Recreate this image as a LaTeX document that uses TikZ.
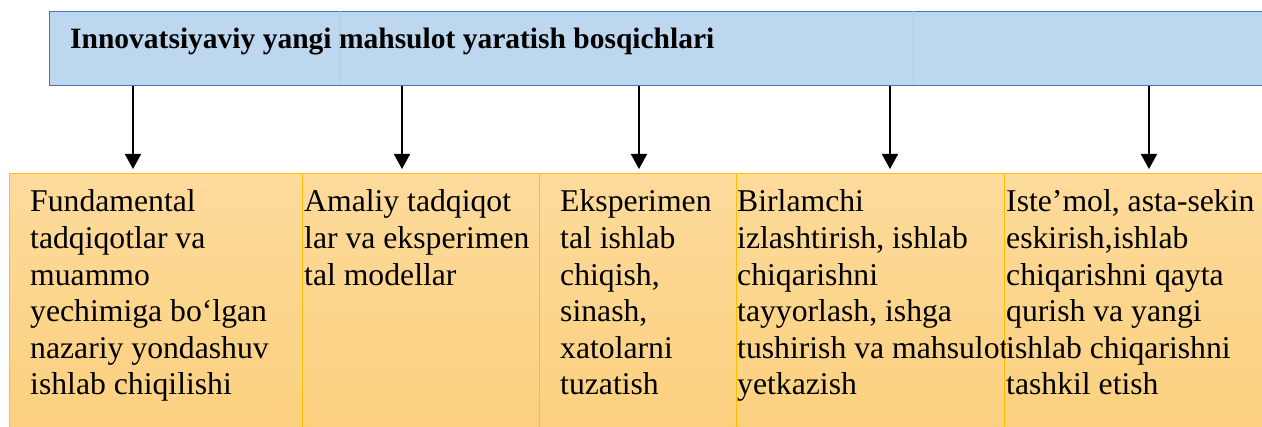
\documentclass[tikz,border=0pt]{standalone}
\usepackage{fontspec}
\setmainfont{Liberation Serif}
\usetikzlibrary{arrows.meta}
\definecolor{barfill}{HTML}{BDD7EE}
\definecolor{barline}{HTML}{4472C4}
\definecolor{barsep}{HTML}{B2CCE8}
\definecolor{boxtop}{HTML}{FDDB9C}
\definecolor{boxbot}{HTML}{FCD07E}
\definecolor{boxline}{HTML}{FFC000}
\tikzset{
  x=1pt, y=-1pt,
  barbox/.style={draw=barline, line width=1pt, fill=barfill, inner sep=0, anchor=north west},
  titletext/.style={anchor=base west, inner sep=0, font=\fontsize{29.5}{35}\selectfont\bfseries},
  stagebox/.style={draw=boxline, line width=1.3pt, top color=boxtop, bottom color=boxbot, inner sep=0, anchor=north west, minimum height=262pt},
  stagetext/.style={anchor=base west, inner sep=0, font=\fontsize{31.7}{36.6}\selectfont},
  arr/.style={line width=1.8pt, -{Triangle[width=16pt,length=15pt]}, shorten >=4pt},
}
\newcommand{\stagelines}[1]{\parbox[t]{420pt}{\raggedright #1}}
\begin{document}
\begin{tikzpicture}
\useasboundingbox (0,0) rectangle (1262,427);
% header bar
\node[barbox, minimum width=1230pt, minimum height=74pt] (bar) at (49,11) {};
\draw[barsep, line width=0.4pt] (339,11.5) -- (339,84.5);
\draw[barsep, line width=0.4pt] (913,11.5) -- (913,84.5);
\node[titletext] (title) at (70,49) {Innovatsiyaviy yangi mahsulot yaratish bosqichlari};
% stage boxes
\node[stagebox, minimum width=293pt] (b1) at (9,173) {};
\node[stagebox, minimum width=237pt] (b2) at (302,173) {};
\node[stagebox, minimum width=197pt] (b3) at (539,173) {};
\node[stagebox, minimum width=268pt] (b4) at (736,173) {};
\node[stagebox, minimum width=280pt] (b5) at (1004,173) {};
% texts
\node[stagetext] (t1) at (30,212) {\stagelines{Fundamental\\tadqiqotlar va\\muammo\\yechimiga bo‘lgan\\nazariy yondashuv\\ishlab chiqilishi}};
\node[stagetext] (t2) at (304,212) {\stagelines{Amaliy tadqiqot\\lar va eksperimen\\tal modellar}};
\node[stagetext] (t3) at (560,212) {\stagelines{Eksperimen\\tal ishlab\\chiqish,\\sinash,\\xatolarni\\tuzatish}};
\begin{scope}
\clip (b4.north west) rectangle (b4.south east);
\node[stagetext] (t4) at (737,212) {\stagelines{Birlamchi\\izlashtirish, ishlab\\chiqarishni\\tayyorlash, ishga\\tushirish va mahsulot\\yetkazish}};
\end{scope}
\node[stagetext] (t5) at (1006,212) {\stagelines{Iste’mol, asta-sekin\\eskirish,ishlab\\chiqarishni qayta\\qurish va yangi\\ishlab chiqarishni\\tashkil etish}};
% arrows
\coordinate (a1) at (133,0);
\coordinate (a2) at (402,0);
\coordinate (a3) at (639,0);
\coordinate (a4) at (890,0);
\coordinate (a5) at (1149,0);
\draw[arr] (bar.south -| a1) -- (b1.north -| a1);
\draw[arr] (bar.south -| a2) -- (b2.north -| a2);
\draw[arr] (bar.south -| a3) -- (b3.north -| a3);
\draw[arr] (bar.south -| a4) -- (b4.north -| a4);
\draw[arr] (bar.south -| a5) -- (b5.north -| a5);
\end{tikzpicture}
\end{document}
